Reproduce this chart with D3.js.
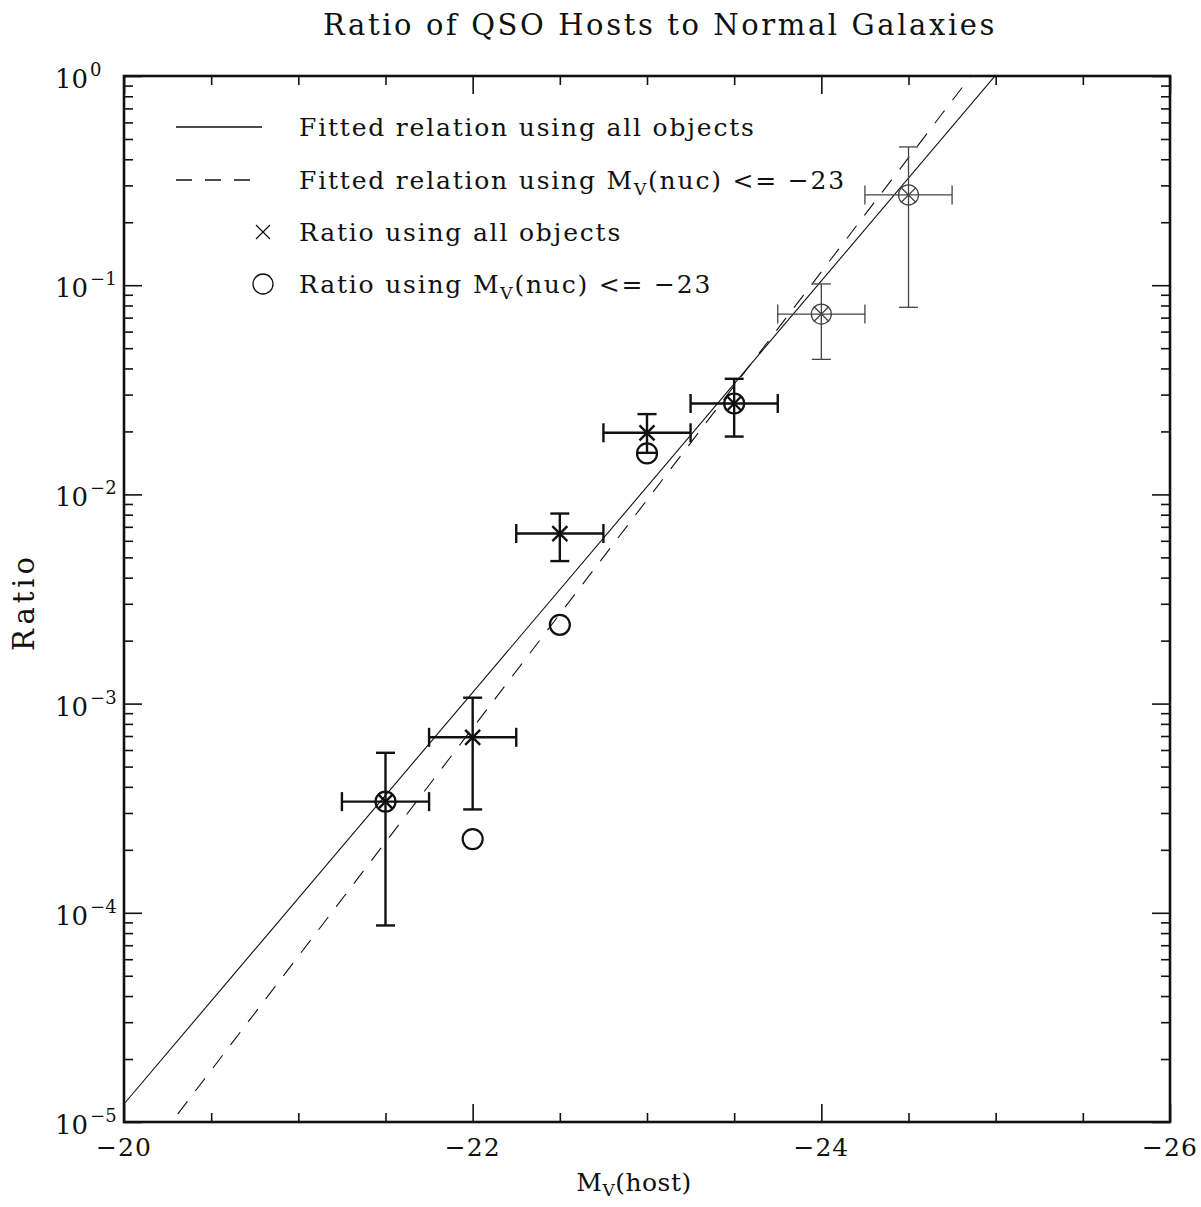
<!DOCTYPE html>
<html>
<head>
<meta charset="utf-8">
<script src="https://cdn.jsdelivr.net/npm/d3@7"></script>
<style>
  body { margin: 0; background: #fff; }
  svg text { font-family: "DejaVu Serif", serif; fill: #111; }
</style>
</head>
<body>
<svg id="chart" width="1201" height="1207"></svg>
<script>
// ---- data ----
const title = "Ratio of QSO Hosts to Normal Galaxies";
const mags = [-21.5, -22, -22.5, -23, -23.5, -24, -24.5];
const magErr = [0.25, 0.25, 0.25, 0.25, 0.25, 0.25, 0.25];
const ratioAll = [3.40e-4, 6.9e-4, 6.5e-3, 0.0197, 0.0272, 0.0728, 0.270];
const ratioAllLo = [8.7e-5, 3.12e-4, 4.8e-3, 0.0158, 0.0189, 0.0442, 0.0784];
const ratioAllHi = [5.82e-4, 1.067e-3, 8.1e-3, 0.0242, 0.0357, 0.1014, 0.458];
const ratioBright = [3.40e-4, 2.25e-4, 2.38e-3, 0.0157, 0.0272, 0.0728, 0.270];
const thinPoint = [false, false, false, false, false, true, true];
// fitted relations: log10(ratio) = intercept + slope * (M - (-20))
const fitAll = { intercept: -4.914, slope: -0.9836 };
const fitBright = { intercept: -5.298, slope: -1.0905 };
const xMajorTicks = [-20, -22, -24, -26];
const yDecades = [0, -1, -2, -3, -4, -5];
const legendLabels = [
  ["Fitted relation using all objects"],
  ["Fitted relation using M", "V", "(nuc) <= \u221223"],
  ["Ratio using all objects"],
  ["Ratio using M", "V", "(nuc) <= \u221223"]
];

// ---- layout ----
const L = 124, R = 1170, T = 76, B = 1122;
const svg = d3.select("#chart");
const x = d3.scaleLinear().domain([-20, -26]).range([L, R]);
const y = d3.scaleLog().domain([1e-5, 1]).range([B, T]);

svg.append("clipPath").attr("id", "clip")
  .append("rect").attr("x", L).attr("y", T).attr("width", R - L).attr("height", B - T);

// ---- axes (ticks on all four sides) ----
const xMinor = d3.range(0, 13).map(i => -20 - 0.5 * i).filter(v => !xMajorTicks.includes(v));
const yMinor = [];
yDecades.slice(1).forEach(d => { for (let k = 2; k <= 9; k++) yMinor.push(k * Math.pow(10, d)); });

const yMajVals = yDecades.map(d => Math.pow(10, d));
const axes = [
  [d3.axisBottom(x).tickValues(xMajorTicks).tickSize(-18), `translate(0,${B})`],
  [d3.axisBottom(x).tickValues(xMinor).tickSize(-9), `translate(0,${B})`],
  [d3.axisTop(x).tickValues(xMajorTicks).tickSize(-18), `translate(0,${T})`],
  [d3.axisTop(x).tickValues(xMinor).tickSize(-9), `translate(0,${T})`],
  [d3.axisLeft(y).tickValues(yMajVals).tickSize(-18), `translate(${L},0)`],
  [d3.axisLeft(y).tickValues(yMinor).tickSize(-9), `translate(${L},0)`],
  [d3.axisRight(y).tickValues(yMajVals).tickSize(-18), `translate(${R},0)`],
  [d3.axisRight(y).tickValues(yMinor).tickSize(-9), `translate(${R},0)`]
];
axes.forEach(([ax, tr]) => {
  const g = svg.append("g").attr("transform", tr).call(ax.tickFormat(""));
  g.select(".domain").remove();
  g.selectAll(".tick line").attr("stroke", "#111").attr("stroke-width", 1.6);
});

svg.append("rect").attr("x", L).attr("y", T).attr("width", R - L).attr("height", B - T)
  .attr("fill", "none").attr("stroke", "#111").attr("stroke-width", 2.6);

// x tick labels
svg.append("g").selectAll("text").data(xMajorTicks).join("text")
  .attr("x", d => x(d)).attr("y", B + 34)
  .attr("text-anchor", "middle").attr("font-size", 25).attr("letter-spacing", 1)
  .text(d => "\u2212" + Math.abs(d));

// y tick labels
const yl = svg.append("g").selectAll("text").data(yDecades).join("text")
  .attr("x", 55).attr("y", d => y(Math.pow(10, d)) + 12)
  .attr("font-size", 26);
yl.append("tspan").text("10");
yl.append("tspan").attr("dy", -12).attr("dx", 2).attr("font-size", 18)
  .text(d => d === 0 ? "0" : "\u2212" + Math.abs(d));

// titles
svg.append("text").attr("x", 660).attr("y", 35).attr("text-anchor", "middle")
  .attr("font-size", 29).attr("letter-spacing", 2.6).text(title);
const xt = svg.append("text").attr("x", 634).attr("y", 1191).attr("text-anchor", "middle")
  .attr("font-size", 25).attr("letter-spacing", 0.5);
xt.append("tspan").text("M");
xt.append("tspan").attr("dy", 5).attr("font-size", 17).text("V");
xt.append("tspan").attr("dy", -5).text("(host)");
svg.append("text").attr("transform", "translate(34,602) rotate(-90)")
  .attr("text-anchor", "middle").attr("font-size", 29).attr("letter-spacing", 4).text("Ratio");

// ---- fitted lines ----
const plot = svg.append("g").attr("clip-path", "url(#clip)");
const lineGen = d3.line().x(d => x(d[0])).y(d => y(d[1]));
function fitPts(f) {
  return [-19.5, -26].map(m => [m, Math.pow(10, f.intercept + f.slope * (m + 20))]);
}
plot.append("path").attr("d", lineGen(fitPts(fitAll)))
  .attr("fill", "none").attr("stroke", "#111").attr("stroke-width", 1.1);
plot.append("path").attr("d", lineGen(fitPts(fitBright)))
  .attr("fill", "none").attr("stroke", "#111").attr("stroke-width", 1.1)
  .attr("stroke-dasharray", "16,13");

// ---- error bars and markers ----
const pts = mags.map((m, i) => ({
  m, dm: magErr[i], r: ratioAll[i], lo: ratioAllLo[i], hi: ratioAllHi[i],
  rb: ratioBright[i], thin: thinPoint[i]
}));
const cap = 9.5, xs = 7.5;
const g = svg.append("g");
pts.forEach(p => {
  const col = p.thin ? "#444" : "#111";
  const w = p.thin ? 1.3 : 2.4;
  const cx = x(p.m), cy = y(p.r);
  const e = g.append("g").attr("stroke", col).attr("stroke-width", w).attr("fill", "none");
  e.append("line").attr("x1", x(p.m + p.dm)).attr("x2", x(p.m - p.dm)).attr("y1", cy).attr("y2", cy);
  e.append("line").attr("x1", x(p.m + p.dm)).attr("x2", x(p.m + p.dm)).attr("y1", cy - cap).attr("y2", cy + cap);
  e.append("line").attr("x1", x(p.m - p.dm)).attr("x2", x(p.m - p.dm)).attr("y1", cy - cap).attr("y2", cy + cap);
  e.append("line").attr("x1", cx).attr("x2", cx).attr("y1", y(p.hi)).attr("y2", y(p.lo));
  e.append("line").attr("x1", cx - cap).attr("x2", cx + cap).attr("y1", y(p.hi)).attr("y2", y(p.hi));
  e.append("line").attr("x1", cx - cap).attr("x2", cx + cap).attr("y1", y(p.lo)).attr("y2", y(p.lo));
  e.append("line").attr("x1", cx - xs).attr("x2", cx + xs).attr("y1", cy - xs).attr("y2", cy + xs);
  e.append("line").attr("x1", cx - xs).attr("x2", cx + xs).attr("y1", cy + xs).attr("y2", cy - xs);
  g.append("circle").attr("cx", cx).attr("cy", y(p.rb)).attr("r", 10)
    .attr("fill", "none").attr("stroke", col).attr("stroke-width", p.thin ? 1.3 : 2.2);
});

// ---- legend ----
const lg = svg.append("g");
const rowsY = [127, 180, 232, 284];
lg.append("line").attr("x1", 176).attr("x2", 262).attr("y1", rowsY[0]).attr("y2", rowsY[0])
  .attr("stroke", "#111").attr("stroke-width", 1.3);
lg.append("line").attr("x1", 176).attr("x2", 252).attr("y1", rowsY[1]).attr("y2", rowsY[1])
  .attr("stroke", "#111").attr("stroke-width", 1.3).attr("stroke-dasharray", "16,13");
lg.append("g").attr("stroke", "#111").attr("stroke-width", 1.3).selectAll("line")
  .data([[-1, -1, 1, 1], [-1, 1, 1, -1]]).join("line")
  .attr("x1", d => 263 + d[0] * 7).attr("y1", d => rowsY[2] + d[1] * 7)
  .attr("x2", d => 263 + d[2] * 7).attr("y2", d => rowsY[2] + d[3] * 7);
lg.append("circle").attr("cx", 263).attr("cy", rowsY[3]).attr("r", 10)
  .attr("fill", "none").attr("stroke", "#111").attr("stroke-width", 1.3);
legendLabels.forEach((parts, i) => {
  const t = lg.append("text").attr("x", 299).attr("y", rowsY[i] + 9)
    .attr("font-size", 25).attr("letter-spacing", 1.8);
  t.append("tspan").text(parts[0]);
  if (parts.length > 1) {
    t.append("tspan").attr("dy", 6).attr("font-size", 17).text(parts[1]);
    t.append("tspan").attr("dy", -6).text(parts[2]);
  }
});
</script>
</body>
</html>
